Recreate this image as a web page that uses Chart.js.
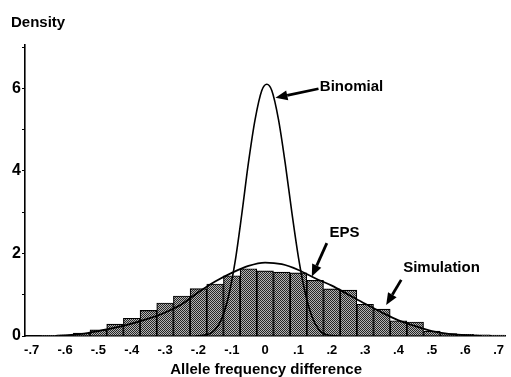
<!DOCTYPE html>
<html lang="en">

<head>
  <meta charset="UTF-8">
  <title>Allele frequency difference</title>
  <script src="https://cdn.jsdelivr.net/npm/chart.js"></script>
  <style>
    html, body { margin: 0; padding: 0; background: #fff; }
    #wrap { width: 511px; height: 377px; }
  </style>
</head>

<body>
  <div id="wrap"><canvas id="densityChart" width="511" height="377"></canvas></div>
  <script>

    // histogram of simulated differences (bin centres, bin width .05)
    var simX = [-0.65, -0.6, -0.55, -0.5, -0.45, -0.4, -0.35, -0.3, -0.25, -0.2, -0.15, -0.1, -0.05,
      0, 0.05, 0.1, 0.15, 0.2, 0.25, 0.3, 0.35, 0.4, 0.45, 0.5, 0.55, 0.6, 0.65, 0.7];
    var simY = [0.01, 0.03, 0.07, 0.15, 0.29, 0.43, 0.62, 0.80, 0.97, 1.15, 1.26, 1.46, 1.63,
      1.58, 1.55, 1.53, 1.35, 1.14, 1.11, 0.77, 0.65, 0.37, 0.34, 0.12, 0.06, 0.04, 0.03, 0.02];

    // EPS density curve
    var epsX = [-0.62, -0.55, -0.5, -0.45, -0.4, -0.35, -0.3, -0.25, -0.2, -0.15, -0.1, -0.05,
      0, 0.05, 0.1, 0.15, 0.2, 0.25, 0.3, 0.35, 0.4, 0.45, 0.5, 0.55, 0.6, 0.65];
    var epsY = [0, 0.05, 0.12, 0.2, 0.3, 0.42, 0.57, 0.77, 1.06, 1.32, 1.53, 1.70,
      1.78, 1.74, 1.60, 1.40, 1.22, 1.00, 0.78, 0.57, 0.38, 0.24, 0.12, 0.05, 0.02, 0];

    // binomial density curve
    var binX = [-0.21, -0.17, -0.15, -0.13, -0.11, -0.09, -0.07, -0.05, -0.03, -0.01,
      0.005, 0.02, 0.04, 0.06, 0.08, 0.1, 0.12, 0.14, 0.16, 0.18, 0.22];
    var binY = [0, 0.04, 0.15, 0.42, 0.95, 1.8, 2.95, 4.2, 5.25, 5.95,
      6.1, 5.95, 5.25, 4.2, 3.0, 1.9, 1.05, 0.48, 0.17, 0.04, 0];

    var xTicks = [-0.7, -0.6, -0.5, -0.4, -0.3, -0.2, -0.1, 0, 0.1, 0.2, 0.3, 0.4, 0.5, 0.6, 0.7];
    var xTickLabels = ['-.7', '-.6', '-.5', '-.4', '-.3', '-.2', '-.1', '0', '.1', '.2', '.3', '.4', '.5', '.6', '.7'];
    var yTicks = [0, 1, 2, 3, 4, 5, 6, 7];
    var yTickLabels = ['0', '', '2', '', '4', '', '6', ''];

    // text labels with arrows: [text, textX, textY, tailX, tailY, tipX, tipY]
    var notes = [
      ['Binomial', 0.164, 6.04, 0.160, 5.99, 0.031, 5.77],
      ['EPS', 0.193, 2.5, 0.185, 2.25, 0.14, 1.44],
      ['Simulation', 0.414, 1.65, 0.408, 1.36, 0.363, 0.75]
    ];

    var FONT = '"Liberation Sans", Arial, sans-serif';

    function toPoints(xs, ys) {
      return xs.map(function (x, i) {
        return { x: x, y: ys[i] };
      });
    }

    // dithered grey fill like the printed bars
    function makePattern() {
      var c = document.createElement('canvas');
      c.width = 2;
      c.height = 2;
      var g = c.getContext('2d');
      g.fillStyle = '#b4b4b4';
      g.fillRect(0, 0, 2, 2);
      g.fillStyle = '#262626';
      g.fillRect(0, 0, 1, 1);
      g.fillRect(1, 1, 1, 1);
      return g.createPattern(c, 'repeat');
    }

    var notesPlugin = {
      id: 'notes',
      afterDraw: function (chart) {
        var ctx = chart.ctx;
        var xs = chart.scales.x;
        var ys = chart.scales.y;
        ctx.save();
        ctx.fillStyle = '#000';
        ctx.strokeStyle = '#000';
        ctx.font = 'bold 15px ' + FONT;
        ctx.textBaseline = 'middle';

        ctx.textAlign = 'left';
        ctx.fillText('Density', 11, 23);
        ctx.textAlign = 'center';
        ctx.fillText('Allele frequency difference', (chart.chartArea.left + chart.chartArea.right) / 2 + 1, 370);

        ctx.textAlign = 'left';
        notes.forEach(function (n) {
          ctx.fillText(n[0], xs.getPixelForValue(n[1]), ys.getPixelForValue(n[2]));
          var x1 = xs.getPixelForValue(n[3]);
          var y1 = ys.getPixelForValue(n[4]);
          var x2 = xs.getPixelForValue(n[5]);
          var y2 = ys.getPixelForValue(n[6]);
          var a = Math.atan2(y2 - y1, x2 - x1);
          var head = 12;
          var bx = x2 - Math.cos(a) * head;
          var by = y2 - Math.sin(a) * head;
          ctx.lineWidth = 2.8;
          ctx.beginPath();
          ctx.moveTo(x1, y1);
          ctx.lineTo(bx, by);
          ctx.stroke();
          ctx.beginPath();
          ctx.moveTo(x2, y2);
          ctx.lineTo(bx + Math.sin(a) * 5, by - Math.cos(a) * 5);
          ctx.lineTo(bx - Math.sin(a) * 5, by + Math.cos(a) * 5);
          ctx.closePath();
          ctx.fill();
        });
        ctx.restore();
      }
    };

    new Chart(document.getElementById('densityChart'), {
      type: 'bar',
      data: {
        datasets: [{
          type: 'line',
          label: 'Binomial',
          data: toPoints(binX, binY),
          borderColor: '#000',
          borderWidth: 1.6,
          pointRadius: 0,
          fill: false,
          cubicInterpolationMode: 'monotone',
          order: 1
        }, {
          type: 'line',
          label: 'EPS',
          data: toPoints(epsX, epsY),
          borderColor: '#000',
          borderWidth: 1.8,
          pointRadius: 0,
          fill: false,
          cubicInterpolationMode: 'monotone',
          order: 1
        }, {
          type: 'bar',
          label: 'Simulation',
          data: toPoints(simX, simY),
          backgroundColor: makePattern(),
          borderColor: '#000',
          borderWidth: 1.2,
          barPercentage: 1,
          categoryPercentage: 1,
          order: 2
        }]
      },
      options: {
        responsive: false,
        animation: false,
        events: [],
        layout: { padding: { top: 45, left: 0, right: 0, bottom: 0 } },
        plugins: {
          legend: { display: false },
          tooltip: { enabled: false }
        },
        scales: {
          x: {
            type: 'linear',
            min: -0.72,
            max: 0.72,
            offset: false,
            afterFit: function (scale) { scale.height = 41; },
            afterBuildTicks: function (scale) {
              scale.ticks = xTicks.map(function (v) { return { value: v }; });
            },
            grid: { display: false, drawTicks: false },
            border: { display: true, color: '#000', width: 1.6 },
            ticks: {
              padding: 7,
              maxRotation: 0,
              autoSkip: false,
              color: '#000',
              font: { family: FONT, size: 13, weight: 'bold' },
              callback: function (value) {
                var i = xTicks.findIndex(function (t) { return Math.abs(t - value) < 1e-6; });
                return i >= 0 ? xTickLabels[i] : '';
              }
            }
          },
          y: {
            min: 0,
            max: 7.05,
            afterFit: function (scale) { scale.width = 25; },
            afterBuildTicks: function (scale) {
              scale.ticks = yTicks.map(function (v) { return { value: v }; });
            },
            grid: { display: true, drawOnChartArea: false, drawTicks: true, tickLength: 3, color: '#000' },
            border: { display: true, color: '#000', width: 1.6 },
            ticks: {
              padding: 1,
              autoSkip: false,
              color: '#000',
              font: { family: FONT, size: 16, weight: 'bold' },
              callback: function (value) {
                var i = yTicks.indexOf(value);
                return i >= 0 ? yTickLabels[i] : '';
              }
            }
          }
        }
      },
      plugins: [notesPlugin]
    });
  </script>
</body>

</html>
